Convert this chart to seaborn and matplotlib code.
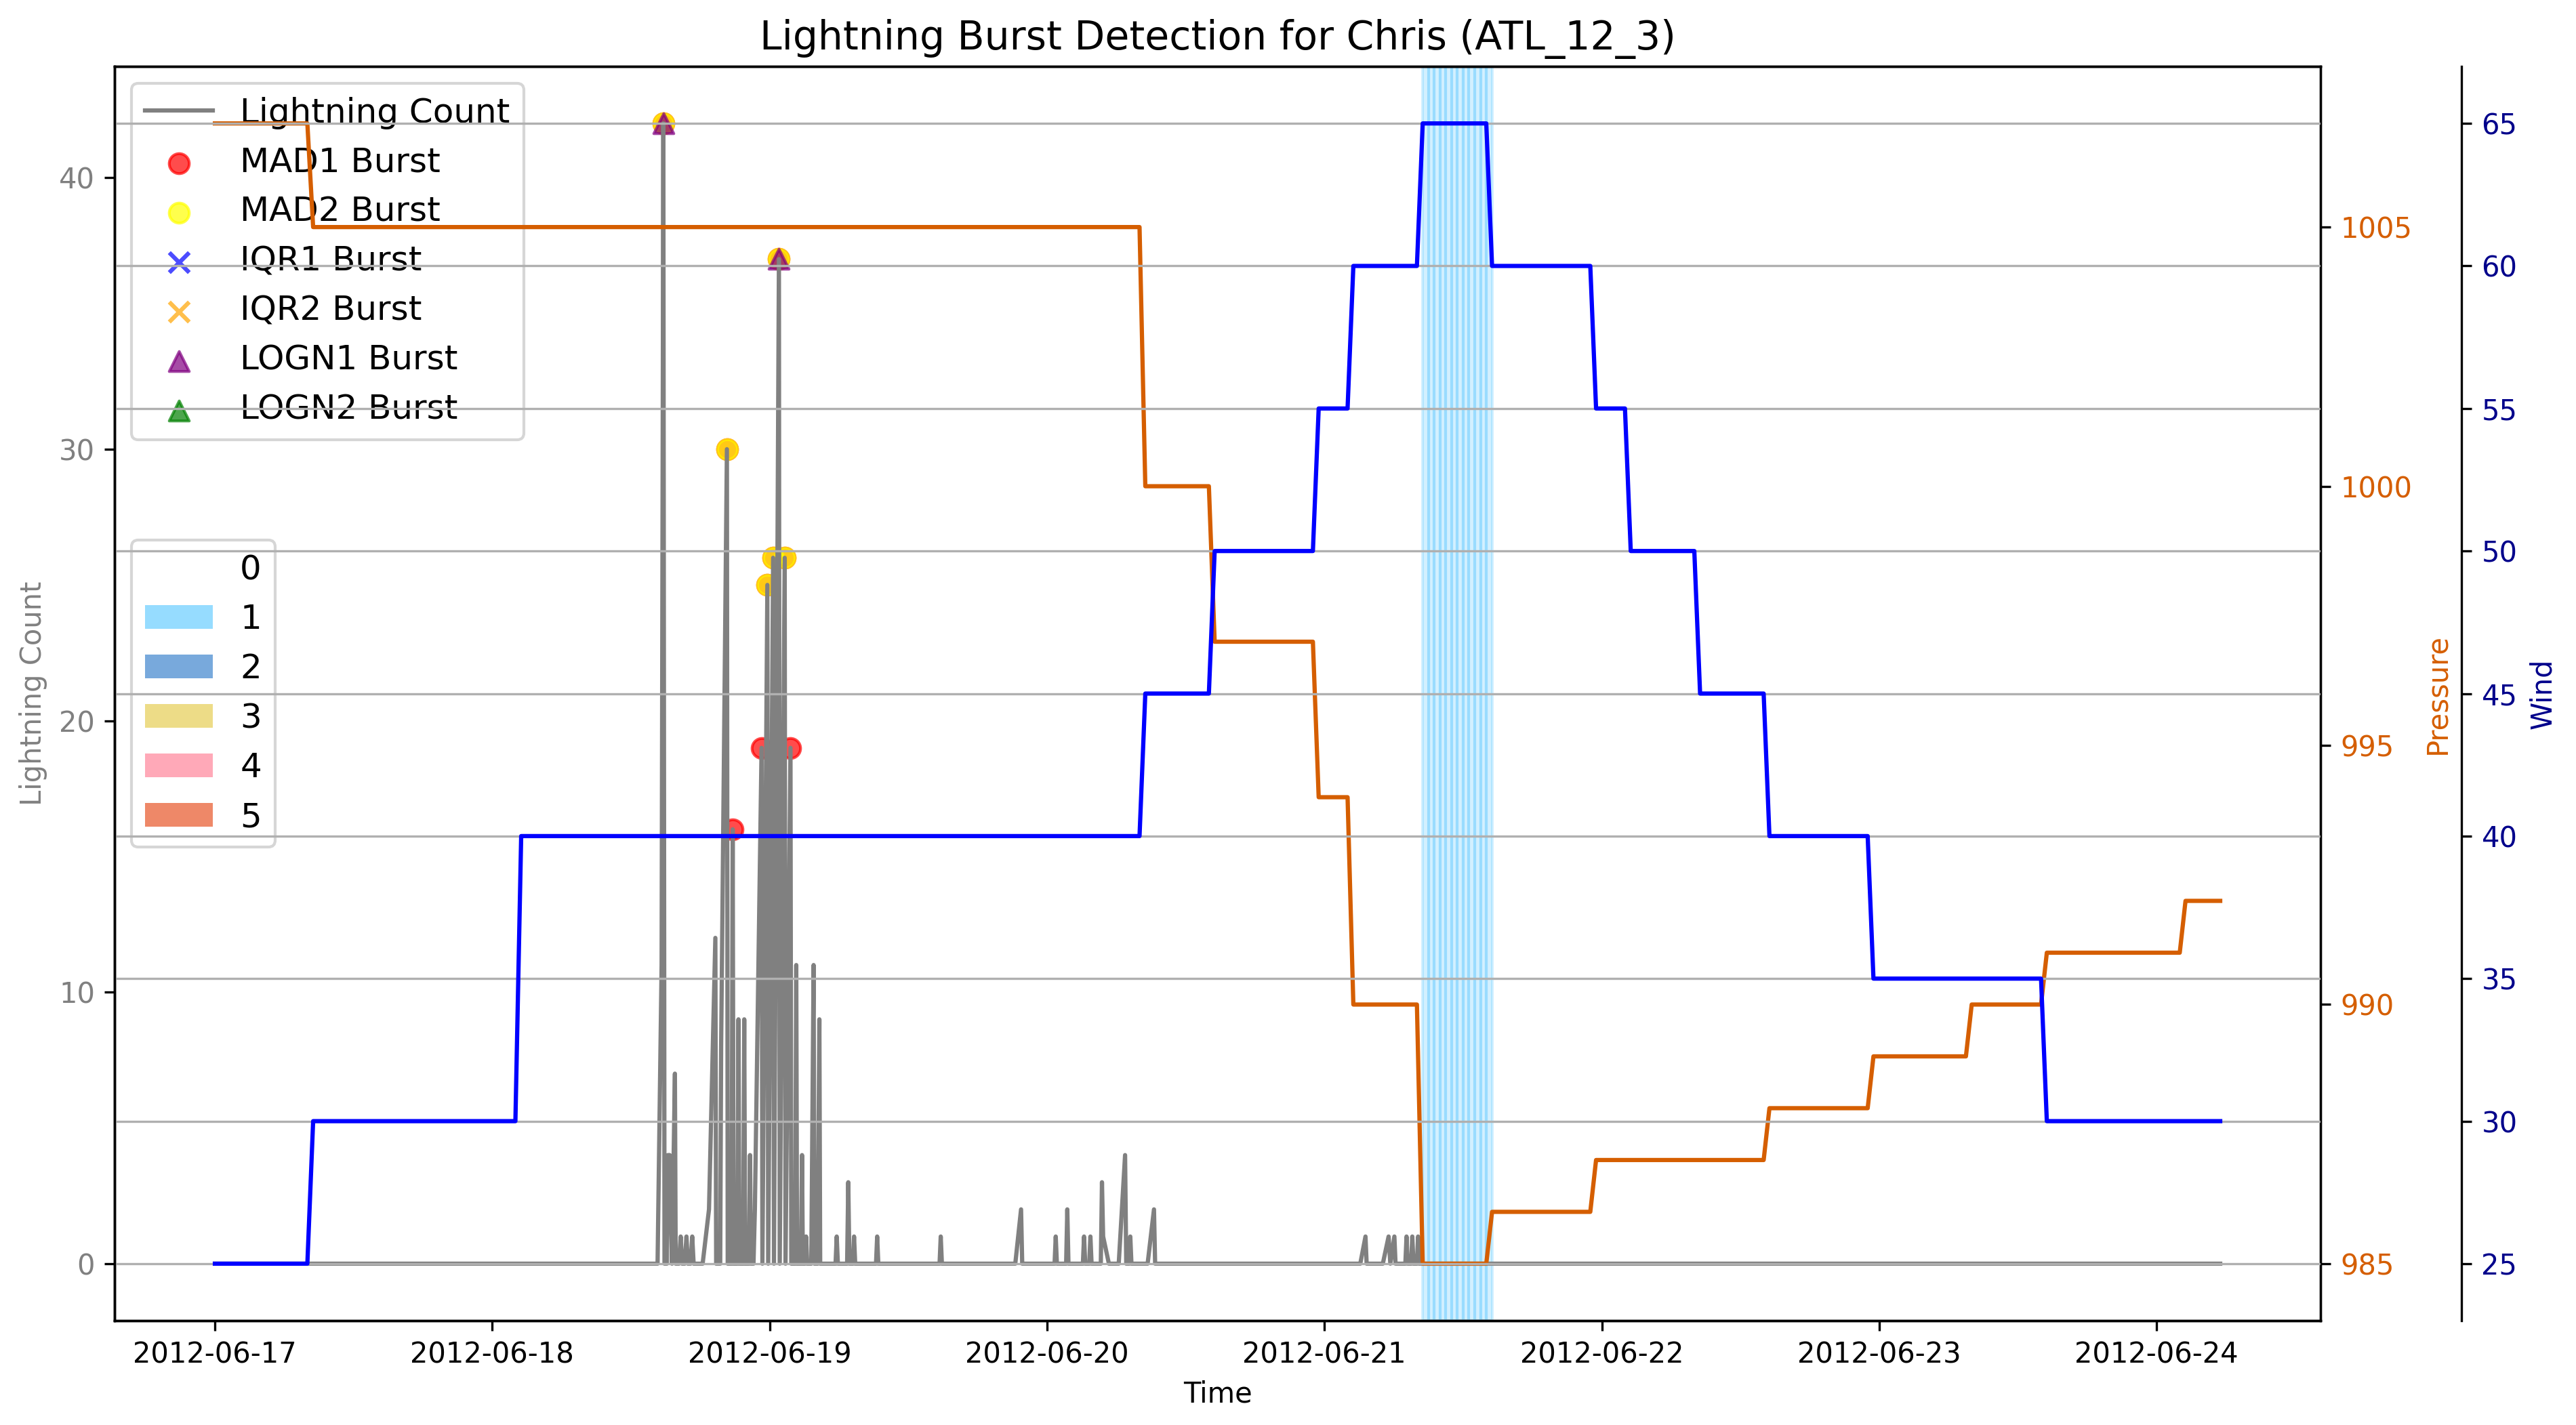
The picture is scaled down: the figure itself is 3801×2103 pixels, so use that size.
import numpy as np
import pandas as pd
import matplotlib
matplotlib.use("Agg")
import matplotlib.pyplot as plt
import seaborn as sns
from matplotlib.patches import Patch

# --- data (hours after 2012-06-17 00:00) ---
start = pd.Timestamp("2012-06-17 00:00")

light_hours = [
    0.0,
    38.3, 38.65, 38.8, 38.9,
    39.1, 39.2, 39.35, 39.55, 39.8, 39.87,
    40.15, 40.3, 40.42, 40.65, 40.8, 40.92, 41.15, 41.3, 41.42,
    42.2, 42.75, 43.3, 43.37,
    43.72, 43.8, 44.3, 44.37,
    44.7, 44.8, 44.88,
    45.2, 45.3, 45.38, 45.7, 45.8, 45.88,
    46.2, 46.3, 46.38,
    46.6, 46.72, 47.3, 47.37,
    47.8, 47.87, 48.3, 48.37, 48.8, 48.87, 49.3, 49.37, 49.8, 49.87,
    50.2, 50.3, 50.37, 50.7, 50.8, 50.87,
    51.05, 51.15, 51.25, 51.6, 51.8, 51.87,
    52.15, 52.3, 52.37,
    53.7, 53.8, 53.9, 54.7, 54.8, 54.9, 55.2, 55.3, 55.4,
    57.2, 57.3, 57.4, 62.7, 62.8, 62.9,
    69.25, 69.75, 69.85,
    72.65, 72.75, 72.85, 73.65, 73.75, 73.85,
    75.1, 75.2, 75.3, 75.65, 75.75, 75.85,
    76.65, 76.75, 76.85, 77.35,
    78.2, 78.75, 78.85, 79.1, 79.2, 79.3,
    80.7, 81.25, 81.35,
    99.1, 99.55, 99.65,
    101.05, 101.55, 101.7, 102.05, 102.15,
    103.0, 103.1, 103.2, 103.5, 103.6, 103.7, 104.0, 104.1, 104.2,
    173.5,
]
light_counts = [
    0,
    0, 11, 42, 0,
    0, 4, 4, 0, 7, 0,
    0, 1, 0, 0, 1, 0, 0, 1, 0,
    0, 2, 12, 0,
    0, 8, 30, 0,
    0, 16, 0,
    0, 9, 0, 0, 9, 0,
    0, 4, 0,
    0, 2, 19, 0,
    25, 0, 26, 0, 37, 0, 26, 0, 19, 0,
    0, 11, 0, 0, 4, 0,
    0, 1, 0, 0, 11, 0,
    0, 9, 0,
    0, 1, 0, 0, 3, 0, 0, 1, 0,
    0, 1, 0, 0, 1, 0,
    0, 2, 0,
    0, 1, 0, 0, 2, 0,
    0, 1, 0, 0, 1, 0,
    0, 3, 1, 0,
    0, 4, 0, 0, 1, 0,
    0, 2, 0,
    0, 1, 0,
    0, 1, 0, 1, 0,
    0, 1, 0, 0, 1, 0, 0, 1, 0,
    0,
]

# burst detections
mad1_hours = [38.8, 44.3, 44.8, 47.3, 47.8, 48.3, 48.8, 49.3, 49.8]
mad1_counts = [42, 30, 16, 19, 25, 26, 37, 26, 19]
mad2_hours = [38.8, 44.3, 47.8, 48.3, 48.8, 49.3]
mad2_counts = [42, 30, 25, 26, 37, 26]
iqr1_hours, iqr1_counts = [], []
iqr2_hours, iqr2_counts = [], []
logn1_hours = [38.8, 48.8]
logn1_counts = [42, 37]
logn2_hours, logn2_counts = [], []

# track (half-hourly samples); value holds from each change time
track_end_hour = 173.5
pressure_change_hours = [0, 8.5, 80.5, 86.5, 95.5, 98.5, 104.5, 110.5, 119.5, 134.5, 143.5, 152.0, 158.5, 170.5]
pressure_values = [1007, 1005, 1000, 997, 994, 990, 985, 986, 987, 988, 989, 990, 991, 992]
wind_change_hours = [0, 8.5, 26.5, 80.5, 86.5, 95.5, 98.5, 104.5, 110.5, 119.5, 122.5, 128.5, 134.5, 143.5, 158.5]
wind_values = [25, 30, 40, 45, 50, 55, 60, 65, 60, 55, 50, 45, 40, 35, 30]

category_labels = ["0", "1", "2", "3", "4", "5"]
category_colors = ["#ffffff", "#50c5ff", "#1e71c5", "#e1c537", "#ff718a", "#e33903"]
category_thresholds = [64, 83, 96, 113, 137]


def to_time(hours):
    return start + pd.to_timedelta(np.asarray(hours, dtype=float), unit="h")


def step_series(change_hours, values, hours):
    idx = np.searchsorted(change_hours, hours, side="right") - 1
    return np.asarray(values)[idx]


track_hours = np.arange(0, track_end_hour + 0.25, 0.5)
track_time = to_time(track_hours)
pressure = step_series(pressure_change_hours, pressure_values, track_hours)
wind = step_series(wind_change_hours, wind_values, track_hours)
category = np.digitize(wind, category_thresholds)

light_time = to_time(light_hours)

fig = plt.figure(figsize=(3801 / 300, 2103 / 300), dpi=300)
ax1 = fig.add_subplot(111)
fig.subplots_adjust(left=0.0445, right=0.9008, bottom=0.0732, top=0.9534)

# shade hurricane category periods, one span per track sample
for i in range(len(track_hours) - 1):
    if category[i] > 0:
        ax1.axvspan(track_time[i], track_time[i + 1], color=category_colors[category[i]],
                    alpha=0.25, label="_nolegend_")

sns.lineplot(x=light_time, y=light_counts, ax=ax1, color="gray", linewidth=1.5,
             label="Lightning Count")

ax1.scatter(to_time(mad1_hours), mad1_counts, color="red", marker="o", s=50, alpha=0.7, label="MAD1 Burst")
ax1.scatter(to_time(mad2_hours), mad2_counts, color="yellow", marker="o", s=50, alpha=0.7, label="MAD2 Burst")
ax1.scatter(to_time(iqr1_hours), iqr1_counts, color="blue", marker="x", s=50, alpha=0.7, label="IQR1 Burst")
ax1.scatter(to_time(iqr2_hours), iqr2_counts, color="orange", marker="x", s=50, alpha=0.7, label="IQR2 Burst")
ax1.scatter(to_time(logn1_hours), logn1_counts, color="purple", marker="^", s=50, alpha=0.7, label="LOGN1 Burst")
ax1.scatter(to_time(logn2_hours), logn2_counts, color="green", marker="^", s=50, alpha=0.7, label="LOGN2 Burst")

ax1.set_xlabel("Time")
ax1.set_ylabel("Lightning Count", color="gray")
ax1.tick_params(axis="y", labelcolor="gray")

leg1 = ax1.legend(loc="upper left", fontsize=12)
cat_handles = [Patch(facecolor=c, alpha=0.6, edgecolor="none") for c in category_colors]
ax1.legend(cat_handles, category_labels, loc="center left", fontsize=12)
ax1.add_artist(leg1)

# pressure axis
ax2 = ax1.twinx()
sns.lineplot(x=track_time, y=pressure, ax=ax2, color="#D55E00", linewidth=1.5)
ax2.set_ylabel("Pressure", color="#D55E00")
ax2.tick_params(axis="y", labelcolor="#D55E00")

# wind axis
ax3 = ax1.twinx()
ax3.spines["right"].set_position(("outward", 50))
sns.lineplot(x=track_time, y=wind, ax=ax3, color="blue", linewidth=1.5)
ax3.set_ylabel("Wind", color="darkblue")
ax3.tick_params(axis="y", labelcolor="darkblue")
ax3.grid(True)

ax1.set_title("Lightning Burst Detection for Chris (ATL_12_3)", fontsize=14)

fig.savefig("out.png", dpi=300)
